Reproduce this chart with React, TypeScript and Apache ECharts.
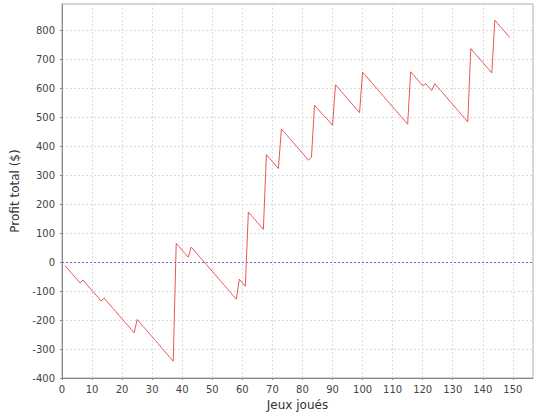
import React from 'react';
import * as echarts from 'echarts';

// profit cumulé après chaque partie (parties 1..149)
const profits = [
  -12, -24, -36, -48, -60, -72, -62, -74, -86, -98,
  -110, -122, -134, -124, -136, -148, -160, -172, -184, -196,
  -208, -220, -232, -244, -198, -210, -222, -234, -246, -258,
  -270, -282, -294, -306, -318, -330, -342, 65, 53, 41,
  29, 17, 52, 40, 28, 16, 4, -8, -20, -32,
  -44, -56, -68, -80, -92, -104, -116, -128, -59, -71,
  -83, 173, 161, 149, 137, 125, 113, 371, 359, 347,
  335, 323, 460, 448, 436, 424, 412, 400, 388, 376,
  364, 352, 362, 542, 530, 518, 507, 496, 484, 472,
  612, 600, 588, 576, 564, 552, 540, 528, 516, 656,
  644, 632, 620, 608, 596, 584, 572, 560, 548, 536,
  524, 512, 500, 488, 476, 657, 645, 633, 621, 609,
  616, 604, 592, 616, 604, 592, 580, 568, 556, 544,
  532, 520, 508, 496, 484, 737, 725, 713, 701, 689,
  677, 665, 653, 835, 823, 811, 799, 787, 775,
];

const xTitle = 'Jeux joués';
const yTitle = 'Profit total ($)';

const App = () => {
  const chartRef = React.useRef(null);

  React.useEffect(() => {
    document.body.style.margin = '0';
    const myChart = echarts.init(chartRef.current, null, { renderer: 'svg' });

    const font = 'DejaVu Sans';
    const points = profits.map((v, i) => [i + 1, v]);

    const option: any = {
      animation: false,
      backgroundColor: '#fff',
      grid: {
        left: 62,
        right: 7,
        top: 4,
        bottom: 42,
        show: true,
        borderColor: '#aaaaaa',
        borderWidth: 1,
      },
      xAxis: {
        type: 'value',
        min: 0,
        max: 156.7,
        interval: 10,
        name: xTitle,
        nameLocation: 'middle',
        nameGap: 21,
        nameTextStyle: { fontFamily: font, fontSize: 12, color: '#333' },
        axisLine: { onZero: false, lineStyle: { color: '#888' } },
        axisTick: { length: 2, lineStyle: { color: '#888' } },
        axisLabel: {
          fontFamily: font,
          fontSize: 10,
          color: '#444',
          margin: 6,
          showMaxLabel: false,
        },
        splitLine: { lineStyle: { color: '#dddddd', type: [2, 2] } },
      },
      yAxis: {
        type: 'value',
        min: -400,
        max: 891,
        interval: 100,
        name: yTitle,
        nameLocation: 'middle',
        nameGap: 27,
        nameTextStyle: { fontFamily: font, fontSize: 12, color: '#333' },
        axisLine: { show: true, onZero: false, lineStyle: { color: '#888' } },
        axisTick: { show: true, length: 2, lineStyle: { color: '#888' } },
        axisLabel: {
          fontFamily: font,
          fontSize: 10,
          color: '#444',
          margin: 7,
          showMaxLabel: false,
        },
        splitLine: { lineStyle: { color: '#dddddd', type: [2, 2] } },
      },
      series: [
        {
          type: 'line',
          data: points,
          showSymbol: false,
          lineStyle: { color: '#e85656', width: 1 },
          markLine: {
            silent: true,
            symbol: 'none',
            label: { show: false },
            lineStyle: { color: '#6f6fc0', type: [2, 2], width: 1 },
            data: [{ yAxis: 0 }],
          },
        },
      ],
    };

    myChart.setOption(option);

    return () => {
      myChart.dispose();
    };
  }, []);

  return <div ref={chartRef} style={{ width: '540px', height: '420px' }} />;
};

export default App;
